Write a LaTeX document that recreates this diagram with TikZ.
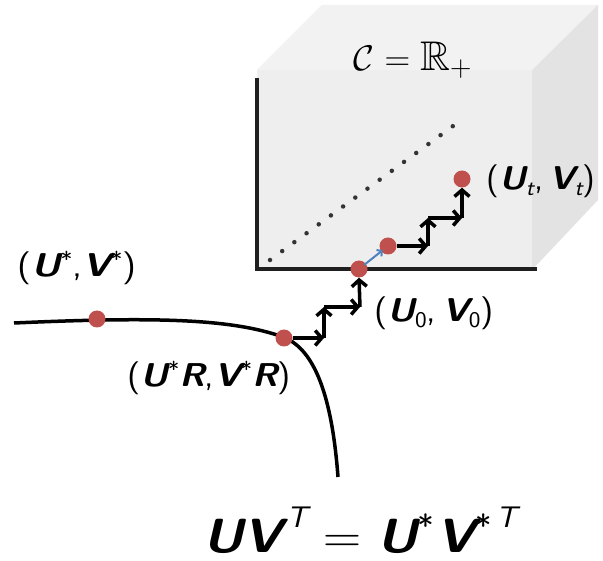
\documentclass[tikz,border=0pt]{standalone}
\usepackage{amssymb}
\usepackage{fontspec}
\usetikzlibrary{arrows.meta}
\definecolor{dotred}{RGB}{192,80,77}
\definecolor{arrblue}{RGB}{79,129,189}
\definecolor{frontg}{RGB}{238,238,238}
\definecolor{topg}{RGB}{242,242,242}
\definecolor{sideg}{RGB}{227,227,227}
\newcommand\vU{{\sffamily\bfseries\itshape U}}
\newcommand\vV{{\sffamily\bfseries\itshape V}}
\newcommand\vR{{\sffamily\bfseries\itshape R}}
\newcommand\sups[1]{\raisebox{0.3em}{\scalebox{0.66}{\sffamily #1}}}
\newcommand\supT{\hspace{0.08em}\raisebox{0.52em}{\scalebox{0.62}{\sffamily\itshape T}}}
\newcommand\subs[1]{\raisebox{-0.18em}{\scalebox{0.68}{\sffamily #1}}}
\newcommand\lp{{\sffamily(}}
\newcommand\rp{{\sffamily)}}
\begin{document}
\begin{tikzpicture}[x=1pt,y=-1pt,
  pt/.style={circle,fill=dotred,minimum size=17pt,inner sep=0pt},
  stair/.style={line width=3.5pt,-{Straight Barb[length=6.5pt,width=15pt]}},
  blu/.style={line width=2pt,draw=arrblue,-{Straight Barb[length=3.5pt,width=8pt]},shorten <=-2pt,shorten >=-2pt},
  axis/.style={line width=3.5pt,draw=black!88},
  lbl/.style={font=\fontsize{33}{38}\selectfont,inner sep=0pt}]
\useasboundingbox (0,0) rectangle (603,561);
% cube
\fill[topg] (257,70) -- (322,5) -- (598,5) -- (532,70) -- cycle;
\fill[sideg] (532,70) -- (598,5) -- (598,200) -- (532,270) -- cycle;
\fill[frontg] (257,70) rectangle (532,270);
% axes
\draw[axis] (257,78) -- (257,269) -- (537,269);
% dotted diagonal
\draw[line width=4.5pt,line cap=round,dash pattern=on 0pt off 15.1pt,black!80] (270,260) -- (464,118);
\node[font=\fontsize{29}{34}\selectfont,inner sep=0pt] (cset) at (413,60) {\scalebox{1.43}{$\mathcal{C}=\mathbb{R}_+$}};
% curve
\draw[line width=3.5pt] (14,323) .. controls (150,317) and (230,318) .. (283,337)
   .. controls (315,349) and (332,397) .. (338,477);
% points
\node[pt] (ps) at (97,319) {};
\node[pt] (pr) at (284,338) {};
\node[pt] (p0) at (359,269) {};
\node[pt] (p1) at (388,246) {};
\node[pt] (pt) at (462,179) {};
% lower staircase
\coordinate (a1) at (324,338);
\coordinate (a2) at (324,307);
\coordinate (a3) at (360,307);
\draw[stair] (pr.east) -- (a1);
\draw[stair] (a1) -- (a2);
\draw[stair] (a2) -- (a3);
\draw[stair] (a3) -- (p0.south);
% blue arrow
\draw[blu] (p0) -- (p1);
% upper staircase
\coordinate (b1) at (428,246);
\coordinate (b2) at (428,218);
\coordinate (b3) at (462,218);
\draw[stair] (p1.east) -- (b1);
\draw[stair] (b1) -- (b2);
\draw[stair] (b2) -- (b3);
\draw[stair] (b3) -- (pt.south);
% labels
\node[lbl] (ls) at (77,268) {\scalebox{1.16}[1]{\lp\vU\sups{*}{\sffamily,}\vV\sups{*}\rp}};
\node[lbl] (lr) at (209,378) {\scalebox{1.1}[1]{\lp\vU\sups{*}\vR{\sffamily,}\vV\sups{*}\vR\rp}};
\node[lbl] (l0) at (434,313) {\scalebox{1.1}[1]{\lp\vU\subs{0}{\sffamily,}\,\vV\subs{0}\rp}};
\node[lbl] (lt) at (541,181) {\scalebox{1.06}[1]{\lp\vU\subs{\itshape t}{\sffamily,}\,\vV\subs{\itshape t}\rp}};
\node[font=\fontsize{48}{56}\selectfont,inner sep=0pt,anchor=base] (eq) at (360,552)
  {\scalebox{1.1}[1]{\vU\vV\supT\hspace{0.3em}{\rmfamily =}\hspace{0.3em}\vU\sups{*}\hspace{0.05em}\vV\sups{*}\supT}};
\end{tikzpicture}
\end{document}
